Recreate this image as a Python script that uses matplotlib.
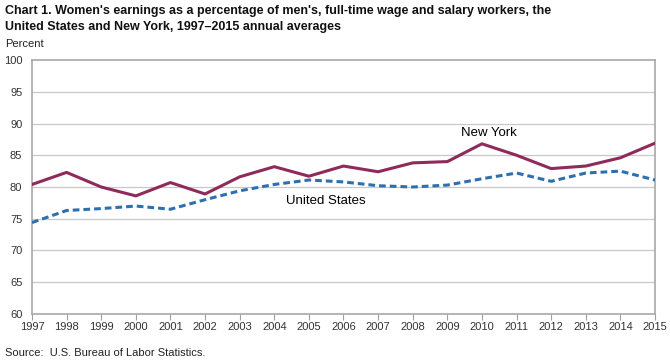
import matplotlib.pyplot as plt
import numpy as np

plt.rcParams['font.family'] = ['Liberation Sans', 'DejaVu Sans']

years = list(range(1997, 2016))
new_york = [80.4, 82.3, 80.0, 78.6, 80.7, 78.9, 81.6, 83.2, 81.7, 83.3,
            82.4, 83.8, 84.0, 86.8, 85.0, 82.9, 83.3, 84.6, 86.9]
united_states = [74.4, 76.3, 76.6, 77.0, 76.5, 78.0, 79.4, 80.4, 81.1, 80.8,
                 80.2, 80.0, 80.3, 81.3, 82.2, 80.9, 82.2, 82.5, 81.1]

fig = plt.figure(figsize=(6.7, 3.61), dpi=100)
ax = fig.add_axes([32 / 670, 47 / 361, 623 / 670, 254 / 361])

for y in range(65, 100, 5):
    ax.axhline(y, color='#c8c8c8', lw=0.9, zorder=1)

ax.plot(years, new_york, color='#8e2b5a', lw=2.2, zorder=3)
ax.plot(years, united_states, color='#2e6fb0', lw=2.2, ls=(0, (2.2, 1.3)), zorder=3)

ax.text(2010.2, 88.5, 'New York', ha='center', va='center', fontsize=9.5, color='black')
ax.text(2005.5, 77.8, 'United States', ha='center', va='center', fontsize=9.5, color='black')

ax.set_xlim(1997, 2015)
ax.set_ylim(60, 100)
ax.set_xticks(years)
ax.set_yticks(range(60, 101, 5))
ax.tick_params(axis='x', direction='out', length=4, color='#a0a0a0', labelsize=8, labelcolor='#333333', pad=2)
ax.tick_params(axis='y', length=0, labelsize=8, labelcolor='#333333', pad=7)
for s in ax.spines.values():
    s.set_color('#a8a8a8')
    s.set_linewidth(1.2)

fig.text(5 / 670, 1 - 11 / 361, "Chart 1. Women's earnings as a percentage of men's, full-time wage and salary workers, the",
         fontsize=9, fontweight='bold', va='center', color='#111111')
fig.text(5 / 670, 1 - 27 / 361, "United States and New York, 1997\u20132015 annual averages",
         fontsize=9, fontweight='bold', va='center', color='#111111')
fig.text(5 / 670, 1 - 44 / 361, "Percent", fontsize=8, va='center', color='#222222')
fig.text(5 / 670, 1 - 353 / 361, "Source:  U.S. Bureau of Labor Statistics.", fontsize=8, va='center', color='#222222')

fig.savefig('out.png', dpi=100)
